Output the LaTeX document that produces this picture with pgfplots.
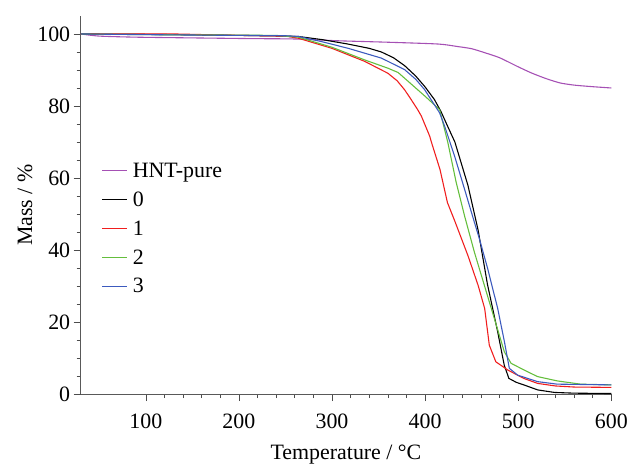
\documentclass[border=0pt]{standalone}
\usepackage{fontspec}
\setmainfont{Liberation Serif}
\usepackage{pgfplots}
\pgfplotsset{compat=1.18}

\definecolor{tgaPurple}{RGB}{165,80,180}
\definecolor{tgaRed}{RGB}{240,30,30}
\definecolor{tgaGreen}{RGB}{100,190,60}
\definecolor{tgaBlue}{RGB}{60,90,190}

\begin{document}
\begin{tikzpicture}
\begin{axis}[
    scale only axis,
    width=533bp, height=380bp,
    xmin=30, xmax=600,
    ymin=0, ymax=105,
    axis lines=left,
    axis line style={black!65, -, line width=0.8pt},
    xtick={100,200,...,600},
    ytick={0,20,...,100},
    minor x tick num=4,
    minor y tick num=3,
    tick align=outside,
    major tick length=7bp,
    minor tick length=4bp,
    tick style={black!70, line width=0.6pt},
    font=\fontsize{22bp}{26bp}\selectfont,
    /pgf/number format/assume math mode=true,
    xticklabel style={yshift=-9bp},
    xlabel={Temperature / °C},
    ylabel={Mass / \%},
    xlabel style={yshift=-10bp},
    ylabel style={yshift=-2bp},
    legend style={at={(rel axis cs:0.034,0.62)}, anchor=north west,
        draw=none, fill=none, row sep=11bp, column sep=4bp,
        nodes={inner sep=1bp}},
    legend cell align=left,
    legend image code/.code={\draw[line width=1.1pt, #1] (0bp,0bp) -- (25bp,0bp);},
    every axis plot/.append style={line width=1.1pt}
]
\coordinate (sw) at (rel axis cs:0,0);
\coordinate (ne) at (rel axis cs:1,1);

% HNT-pure
\addplot[color=tgaPurple, smooth, tension=0.4] coordinates {
(30,100) (50,99.4) (90,99.1) (150,98.9) (215,98.7) (260,98.6) (307,98.1)
(360,97.7) (414,97.2) (435,96.5) (450,95.9) (464,94.8) (480,93.4) (499,91.0)
(514,89.2) (530,87.6) (545,86.4) (560,85.8) (578,85.4) (600,85.0)};
\addlegendentry{HNT-pure}

% 0
\addplot[color=black] coordinates {
(30,100) (100,99.9) (200,99.6) (250,99.4) (264,99.3) (290,98.4) (317,97.2)
(340,96.0) (353,95.0) (366,93.4) (378,91.2) (390,88.3) (400,85.3) (410,81.8)
(417,78.5) (424,74.5) (432,70.0) (446,58.0) (457,45.5) (467,30.5) (478,17.3)
(485,8.1) (490,4.4) (498,3.3) (506,2.6) (521,1.2) (539,0.5) (560,0.3) (600,0.2)};
\addlegendentry{0}

% 1
\addplot[color=tgaRed] coordinates {
(30,100) (130,100) (200,99.6) (250,99.4) (264,98.8) (300,96.0) (335,92.4)
(360,89.1) (370,87.0) (378,84.5) (385,81.8) (392,79.0) (396,77.2) (405,71.6)
(407,69.8) (416,62.4) (424,53.2) (432,48.0) (446,38.5) (457,30.2) (464,23.8)
(469,13.6) (476,9.0) (489,6.7) (506,4.4) (521,3.0) (540,2.3) (560,2.0) (600,1.9)};
\addlegendentry{1}

% 2
\addplot[color=tgaGreen] coordinates {
(30,100) (100,99.8) (180,99.7) (240,99.6) (264,99.1) (300,96.3) (335,92.8)
(360,90.5) (371,89.3) (382,86.8) (400,82.7) (415.6,79.0) (424.5,69.8) (433.4,58.8)
(442.4,49.5) (453,39.4) (463.7,30.2) (474.4,21.0) (485.1,11.8) (492.3,8.6)
(506.5,6.7) (520.8,4.9) (542,3.7) (567,2.8) (600,2.6)};
\addlegendentry{2}

% 3
\addplot[color=tgaBlue] coordinates {
(30,100) (100,99.8) (200,99.6) (250,99.5) (264,99.3) (290,97.8) (317.5,96.0)
(353,93.3) (378,90.1) (390,87.4) (399.6,84.5) (415.6,78.1) (421,74.4) (431.7,66.1)
(442.4,56.9) (453,47.7) (458.4,43.1) (467.3,34.8) (478,23.8) (485.2,14.6)
(490.5,7.2) (499.4,5.3) (520.8,3.5) (542,2.8) (600,2.6)};
\addlegendentry{3}

\end{axis}
\path ([shift={(-81bp,-66bp)}]sw) rectangle ([shift={(17bp,16bp)}]ne);
\end{tikzpicture}
\end{document}
